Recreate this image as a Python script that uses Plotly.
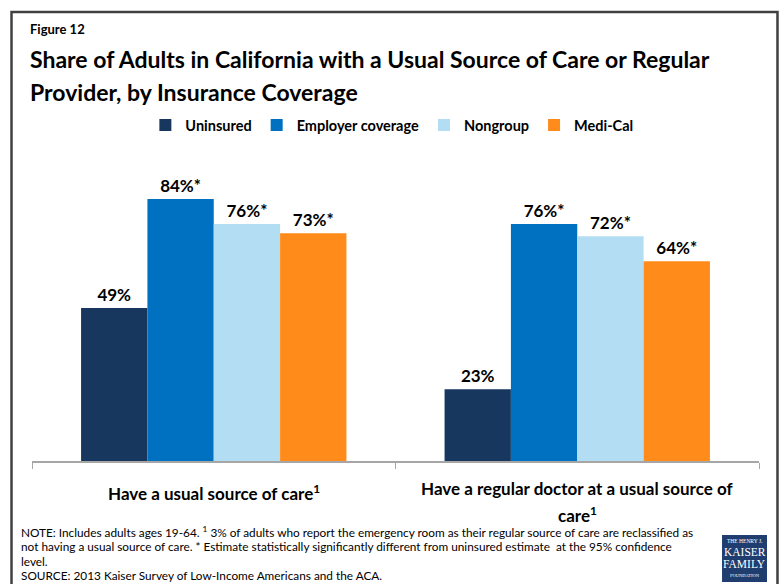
import plotly.graph_objects as go

# ---- data ----
categories = ["Have a usual source of care", "Have a regular doctor at a usual source of care"]
category_lines = [["Have a usual source of care<sup>1</sup>"],
                  ["Have a regular doctor at a usual source of", "care<sup>1</sup>"]]
series_names = ["Uninsured", "Employer coverage", "Nongroup", "Medi-Cal"]
uninsured = [49, 23]
employer = [84, 76]
nongroup = [76, 72]
medical = [73, 64]
significant = [[False, False], [True, True], [True, True], [True, True]]
colors = ["#17375E", "#0070C0", "#B3DDF2", "#FF8B1A"]

title_top = "Figure 12"
title_lines = ["Share of Adults in California with a Usual Source of Care or Regular",
               "Provider, by Insurance Coverage"]
note_lines = [
    "NOTE: Includes adults ages 19-64. <sup>1</sup> 3% of adults who report the emergency room as their regular source of care are reclassified as",
    "not having a usual source of care. * Estimate statistically significantly different from uninsured estimate  at the 95% confidence",
    "level.",
    "SOURCE: 2013 Kaiser Survey of Low-Income Americans and the ACA.",
]

W, H = 784, 584
ML, MR, MT, MB = 31.5, 25, 149, 123
PW, PH = W - ML - MR, H - MT - MB
FONT = "Lato"


def px(x):
    return (x - ML) / PW


def py(y):
    return (H - MB - y) / PH


fig = go.Figure()
all_values = [uninsured, employer, nongroup, medical]
for name, vals, col, sig in zip(series_names, all_values, colors, significant):
    fig.add_trace(go.Bar(
        name=name, x=categories, y=vals,
        marker=dict(color=col, line=dict(width=0)),
        text=[f"<b>{v}%{'*' if s else ''}</b>" for v, s in zip(vals, sig)],
        textposition="outside",
        textfont=dict(family=FONT, size=17, color="#000000"),
        cliponaxis=False,
    ))

annotations = [
    dict(text="<b>" + title_top + "</b>", x=px(27), y=py(29), xref="paper", yref="paper",
         xanchor="left", yanchor="middle", showarrow=False,
         font=dict(family=FONT, size=13, color="#000")),
]
for line, yy in zip(title_lines, [59, 92]):
    annotations.append(dict(text="<b>" + line + "</b>", x=px(27), y=py(yy), xref="paper", yref="paper",
                            xanchor="left", yanchor="middle", showarrow=False,
                            font=dict(family=FONT, size=23, color="#000")))

# category labels under the axis
cat_centers = [213.3, 577.0]
cat_line_y = [[492], [488, 514]]
for cx, lines, ys in zip(cat_centers, category_lines, cat_line_y):
    for line, yy in zip(lines, ys):
        annotations.append(dict(text="<b>" + line + "</b>", x=px(cx), y=py(yy), xref="paper", yref="paper",
                                xanchor="center", yanchor="middle", showarrow=False,
                                font=dict(family=FONT, size=17, color="#000")))

for i, line in enumerate(note_lines):
    annotations.append(dict(text=line, x=px(18), y=py(532 + i * 14.5), xref="paper", yref="paper",
                            xanchor="left", yanchor="middle", showarrow=False,
                            font=dict(family=FONT, size=11.8, color="#000")))

# foundation logo
logo_lines = [("THE HENRY J.", 5.5, 541), ("KAISER", 11.5, 552), ("FAMILY", 11.5, 564), ("FOUNDATION", 4.5, 575)]
for t, s, yy in logo_lines:
    annotations.append(dict(text=t, x=px(744.5), y=py(yy), xref="paper", yref="paper",
                            xanchor="center", yanchor="middle", showarrow=False,
                            font=dict(family="Liberation Serif", size=s, color="#FFFFFF")))

shapes = [
    dict(type="rect", xref="paper", yref="paper", x0=px(11), x1=px(777.5), y0=py(12), y1=py(600),
         line=dict(color="#404040", width=2.5), fillcolor="rgba(0,0,0,0)", layer="below"),
    dict(type="rect", xref="paper", yref="paper", x0=px(722), x1=px(767), y0=py(535), y1=py(582),
         line=dict(width=0), fillcolor="#1F3D6E", layer="above"),
]

fig.update_layout(
    width=W, height=H,
    margin=dict(l=ML, r=MR, t=MT, b=MB, pad=0),
    paper_bgcolor="#FFFFFF", plot_bgcolor="#FFFFFF",
    barmode="group", bargap=0.27, bargroupgap=0,
    font=dict(family=FONT),
    showlegend=True,
    legend=dict(orientation="h", x=0.495, xanchor="center", xref="paper",
                y=py(125), yanchor="middle", yref="paper",
                font=dict(family=FONT, size=14.5, color="#000", weight="bold"),
                itemwidth=30, traceorder="normal", itemclick=False,
                bgcolor="rgba(0,0,0,0)"),
    xaxis=dict(type="category", tickson="boundaries", ticks="outside", ticklen=6, tickcolor="#A6A6A6",
               showline=True, linecolor="#A6A6A6", linewidth=1.5, showticklabels=False,
               showgrid=False, fixedrange=True),
    yaxis=dict(range=[0, 100], visible=False, showgrid=False, fixedrange=True),
    annotations=annotations,
    shapes=shapes,
)

fig.write_html("out.html")
